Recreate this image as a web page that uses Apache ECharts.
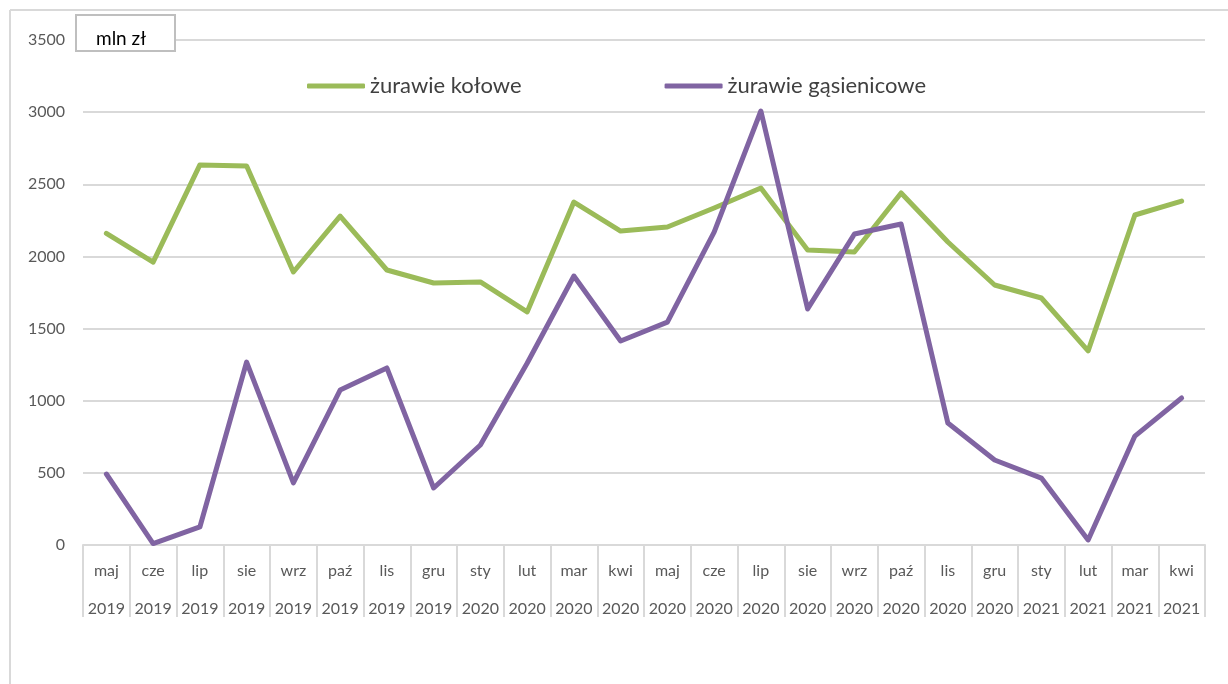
<!DOCTYPE html>
<html><head><meta charset="utf-8">
<script src="https://cdn.jsdelivr.net/npm/echarts@6/dist/echarts.min.js"></script>
<style>html,body{margin:0;padding:0;background:#fff}#c{width:1228px;height:684px}</style>
</head><body><div id="c"></div>
<script>
const months = ['maj','cze','lip','sie','wrz','paź','lis','gru','sty','lut','mar','kwi','maj','cze','lip','sie','wrz','paź','lis','gru','sty','lut','mar','kwi'];
const years = ['2019','2019','2019','2019','2019','2019','2019','2019','2020','2020','2020','2020','2020','2020','2020','2020','2020','2020','2020','2020','2021','2021','2021','2021'];
const kolowe = [2160,1960,2634,2627,1892,2280,1906,1816,1823,1615,2377,2176,2204,2336,2474,2045,2031,2440,2100,1802,1712,1345,2287,2384];
const gasienicowe = [492,10,125,1268,430,1074,1227,395,693,1260,1864,1414,1545,2169,3008,1636,2155,2225,845,589,464,35,755,1019];
const yTicks = [0,500,1000,1500,2000,2500,3000,3500];

const categories = months.map((m,i)=>m+'|'+years[i]);
const font = 'Lato, "Open Sans", sans-serif';
const chart = echarts.init(document.getElementById('c'));
chart.setOption({
  animation:false,
  textStyle:{fontFamily:font},
  grid:{left:83,right:23,top:40,bottom:139},
  legend:{
    left:302, top:70, itemGap:143, itemWidth:58, itemHeight:5,
    icon:'roundRect',
    textStyle:{fontSize:22,color:'#404040',fontFamily:font},
    data:['żurawie kołowe','żurawie gąsienicowe']
  },
  xAxis:{
    type:'category', data:categories, boundaryGap:true,
    axisLine:{lineStyle:{color:'#d9d9d9',width:2}},
    axisTick:{show:true,length:72,interval:0,lineStyle:{color:'#d9d9d9',width:2}},
    axisLabel:{interval:0,margin:7,color:'#595959',fontSize:16,fontFamily:font,
      formatter:v=>{const p=v.split('|');return '{a|'+p[0]+'}\n{b|'+p[1]+'}';},
      rich:{a:{fontSize:16,color:'#595959',lineHeight:38,fontFamily:font},b:{fontSize:16,color:'#595959',lineHeight:38,fontFamily:font}}
    }
  },
  yAxis:{
    type:'value', min:0, max:3500, interval:500,
    axisLine:{show:false}, axisTick:{show:false},
    axisLabel:{color:'#595959',fontSize:16,margin:18,fontFamily:font,
      formatter:v=>yTicks.includes(v)?String(v):''},
    splitLine:{lineStyle:{color:'#d9d9d9',width:2}}
  },
  series:[
    {name:'żurawie kołowe',type:'line',data:kolowe,showSymbol:false,symbol:'none',
      lineStyle:{color:'#9BBB59',width:5,cap:'round',join:'round'},itemStyle:{color:'#9BBB59'}},
    {name:'żurawie gąsienicowe',type:'line',data:gasienicowe,showSymbol:false,symbol:'none',
      lineStyle:{color:'#8064A2',width:5,cap:'round',join:'round'},itemStyle:{color:'#8064A2'}}
  ],
  graphic:[
    {type:'line',shape:{x1:10,y1:10,x2:1228,y2:10},style:{stroke:'#d9d9d9',lineWidth:2},z:0},
    {type:'line',shape:{x1:10,y1:10,x2:10,y2:684},style:{stroke:'#d9d9d9',lineWidth:2},z:0},
    {type:'rect',shape:{x:76,y:15,width:99,height:36},style:{fill:'#fff',stroke:'#bfbfbf',lineWidth:2},z:100},
    {type:'text',left:96,top:29,style:{text:'mln zł',fontSize:19,fill:'#000',fontFamily:font},z:101}
  ]
});
</script></body></html>
